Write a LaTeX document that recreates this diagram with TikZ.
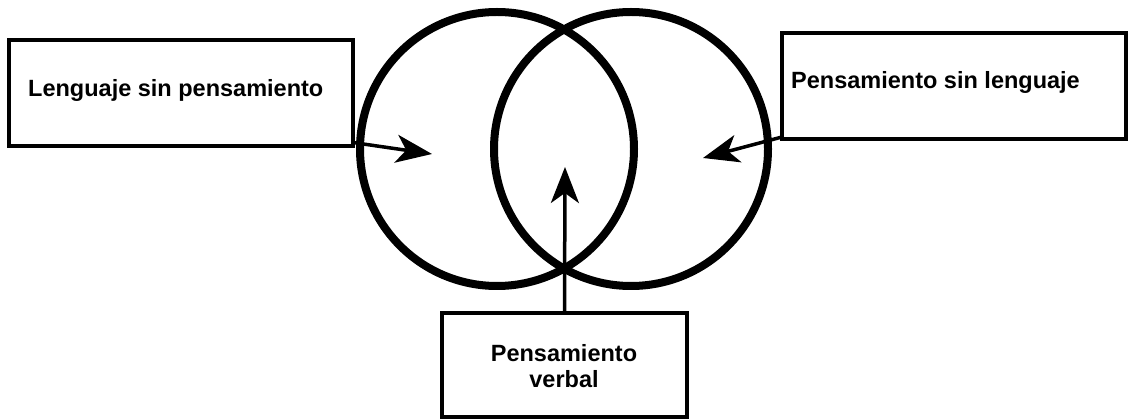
\documentclass[tikz,border=0pt]{standalone}
\usepackage{fontspec}
\setmainfont{Liberation Sans}
\usetikzlibrary{arrows.meta}
\begin{document}
\begin{tikzpicture}[x=1pt,y=-1pt,
  boxnode/.style={draw, line width=4pt, minimum width=#1, minimum height=106pt, inner sep=0pt, outer sep=0pt},
  ring/.style={draw, circle, line width=8pt, minimum size=274pt, inner sep=0pt, outer sep=0pt},
  lbl/.style={font=\bfseries\fontsize{23.5}{26}\selectfont, inner sep=0pt},
  conn/.style={line width=3.5pt, -{Stealth[length=36pt, width=28pt, inset=10pt]}}]
\useasboundingbox (0,0) rectangle (1128,419);
% circles
\node[ring] (cl) at (497,149) {};
\node[ring] (cr) at (631,149) {};
% boxes
\node[boxnode=344pt] (lb) at (181,93.5) {};
\node[boxnode=344pt] (rb) at (954,86) {};
\node[boxnode=245pt, minimum height=104pt] (bb) at (564.5,365) {};
% texts
\node[lbl, anchor=base west] (lt) at (28,97) {Lenguaje sin pensamiento};
\node[lbl, anchor=base west] (rt) at (791,89) {Pensamiento sin lenguaje};
\node[lbl, anchor=base] (bt1) at (564,362) {Pensamiento};
\node[lbl, anchor=base] (bt2) at (564,388) {verbal};
% arrow targets
\coordinate (lp) at (432,154);
\coordinate (rp) at (703,158);
\coordinate (bp) at (565,167);
% connectors
\draw[conn] ([yshift=4pt]lb.south east) -- (lp);
\draw[conn] ([yshift=2pt]rb.south west) -- (rp);
\draw[conn] (bb.north) -- (bp);
\end{tikzpicture}
\end{document}
